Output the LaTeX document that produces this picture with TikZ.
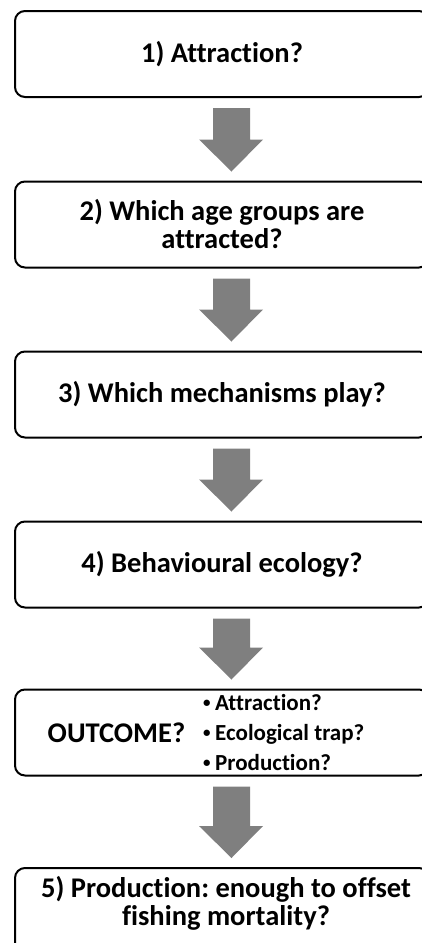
\documentclass[tikz,border=0pt]{standalone}
\usepackage{fontspec}
\setmainfont{Carlito}[Ligatures={NoCommon,NoRare}]
\usetikzlibrary{calc}
\definecolor{arrowgray}{HTML}{7F7F7F}
\frenchspacing

\begin{document}
\begin{tikzpicture}[x=1pt,y=-1pt]
        \tikzset{box/.style={draw, line width=2pt, rounded corners=10pt, minimum width=414pt, minimum height=86pt,
                             inner sep=0pt, align=center, font=\bfseries\fontsize{28.5pt}{28pt}\selectfont},
                 boxtext/.style={align=center, inner sep=0pt, font=\bfseries\fontsize{28.5pt}{28pt}\selectfont},
                 listtext/.style={align=left, inner sep=0pt, font=\bfseries\fontsize{23pt}{30pt}\selectfont},
                 blockarrow/.style={fill=arrowgray}}
        \newcommand{\dotitem}{\makebox[12pt][l]{\raisebox{3.5pt}{\fontsize{15pt}{15pt}\selectfont •}}}
        \useasboundingbox (0,0) rectangle (422,943);
        \node [box] (1) at (222,54)    {1) Attraction?};
        \node [box] (2) at (222,224.5) {2) Which age groups are\\attracted?};
        \node [box] (3) at (222,394.5) {3) Which mechanisms play?};
        \node [box] (4) at (222,564.5) {4) Behavioural ecology?};
        \node [box] (5) at (222,732.5) {};
        \node [boxtext]               (outcome) at (116.5,733) {OUTCOME?};
        \node [listtext, anchor=west] (items)   at (203,733)   {\dotitem Attraction?\\
                                                               \dotitem Ecological trap?\\
                                                               \dotitem Production?};
        \node [box] (6) at (222,911) {};
        \node [boxtext, anchor=base]  (6t)      at (226,925)   {5) Production: enough to offset\\fishing mortality?};
        \foreach \a/\b in {1/2,2/3,3/4,4/5,5/6}
            \fill [blockarrow] let \p1=(\a.south), \p2=(\b.north) in
                (\x1-9pt,\y1-10pt) -- (\x1+28pt,\y1-10pt) -- (\x1+28pt,\y2+41pt) -- (\x1+41pt,\y2+41pt)
                -- (\x1+9.5pt,\y2+9pt) -- (\x1-23pt,\y2+41pt) -- (\x1-9pt,\y2+41pt) -- cycle;
    \end{tikzpicture}
\end{document}
